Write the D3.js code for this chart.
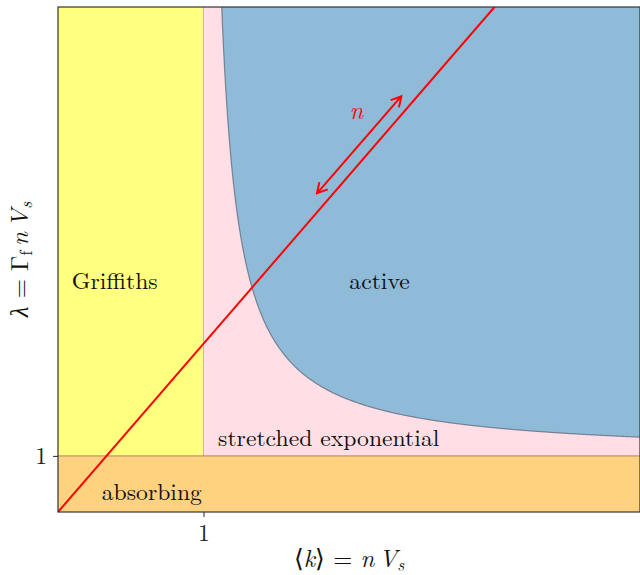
<!DOCTYPE html>
<html>
<head>
<meta charset="utf-8">
<script src="https://cdn.jsdelivr.net/npm/d3@7"></script>
<style>
  body { margin: 0; background: #fff; }
</style>
</head>
<body>
<svg id="chart" width="640" height="575"></svg>
<script>
// Phase diagram in the (<k>, lambda) plane
const xDomain = [0, 4];
const yDomain = [0, 9];
const xTicks = [1];
const yTicks = [1];
const kThreshold = 1;        // percolation threshold <k> = 1
const lambdaThreshold = 1;   // lambda = 1
const lineSlope = 3;         // lambda = Gamma_f n V_s, with <k> = n V_s
const arrowEnds = [[1.78, 5.68], [2.36, 7.41]];
const regionLabels = [
  { text: "Griffiths", k: 0.39, l: 3.98, anchor: "middle" },
  { text: "active", k: 2.21, l: 3.98, anchor: "middle" },
  { text: "stretched exponential", k: 1.1, l: 1.18, anchor: "start" },
  { text: "absorbing", k: 0.645, l: 0.21, anchor: "middle" }
];

const FONT = "'Latin Modern Roman', 'CMU Serif', 'Liberation Serif', serif";
const margin = { left: 58, top: 7, right: 0, bottom: 63 };
const W = 640, H = 575;
const svg = d3.select("#chart");
const x = d3.scaleLinear().domain(xDomain).range([margin.left, W - margin.right]);
const y = d3.scaleLinear().domain(yDomain).range([H - margin.bottom, margin.top]);

const defs = svg.append("defs");
defs.append("clipPath").attr("id", "plotclip")
  .append("rect")
  .attr("x", x(xDomain[0])).attr("y", y(yDomain[1]))
  .attr("width", x(xDomain[1]) - x(xDomain[0]))
  .attr("height", y(yDomain[0]) - y(yDomain[1]));

const g = svg.append("g").attr("clip-path", "url(#plotclip)");

// Griffiths phase: below threshold in <k>
g.append("rect")
  .attr("x", x(xDomain[0])).attr("y", y(yDomain[1]))
  .attr("width", x(kThreshold) - x(xDomain[0]))
  .attr("height", y(lambdaThreshold) - y(yDomain[1]))
  .attr("fill", "rgb(255,255,128)");

// stretched exponential region
g.append("rect")
  .attr("x", x(kThreshold)).attr("y", y(yDomain[1]))
  .attr("width", x(xDomain[1]) - x(kThreshold))
  .attr("height", y(lambdaThreshold) - y(yDomain[1]))
  .attr("fill", "rgb(255,223,229)");

// boundary between Griffiths and stretched exponential
g.append("line")
  .attr("x1", x(kThreshold)).attr("x2", x(kThreshold))
  .attr("y1", y(yDomain[1])).attr("y2", y(lambdaThreshold))
  .attr("stroke", "rgba(120,120,100,0.45)").attr("stroke-width", 1);

// absorbing phase
g.append("rect")
  .attr("x", x(xDomain[0])).attr("y", y(lambdaThreshold))
  .attr("width", x(xDomain[1]) - x(xDomain[0]))
  .attr("height", y(yDomain[0]) - y(lambdaThreshold))
  .attr("fill", "rgb(255,210,128)");
g.append("line")
  .attr("x1", x(xDomain[0])).attr("x2", x(xDomain[1]))
  .attr("y1", y(lambdaThreshold)).attr("y2", y(lambdaThreshold))
  .attr("stroke", "rgba(130,90,80,0.55)").attr("stroke-width", 1.2);

// active phase: lambda > 1 + 1/(<k> - 1)
const ks = d3.range(1.1, 4.0001, 0.005);
const boundary = ks.map(k => [k, lambdaThreshold + 1 / (k - kThreshold)]);
const areaPts = boundary.concat([[xDomain[1], yDomain[1] + 1], [boundary[0][0], yDomain[1] + 1]]);
const line = d3.line().x(d => x(d[0])).y(d => y(d[1]));
g.append("path")
  .attr("d", line(areaPts) + "Z")
  .attr("fill", "rgb(143,187,217)");
g.append("path")
  .attr("d", line(boundary))
  .attr("fill", "none")
  .attr("stroke", "rgba(70,80,95,0.6)").attr("stroke-width", 1.2);

// lambda = Gamma_f <k>
g.append("line")
  .attr("x1", x(0)).attr("y1", y(0))
  .attr("x2", x(yDomain[1] / lineSlope)).attr("y2", y(yDomain[1]))
  .attr("stroke", "#ff0000").attr("stroke-width", 2);

// double-headed arrow for increasing n
["start", "end"].forEach(t => {
  defs.append("marker")
    .attr("id", "head-" + t)
    .attr("viewBox", "-11 -7 13 14")
    .attr("refX", 0).attr("refY", 0)
    .attr("markerWidth", 13).attr("markerHeight", 14)
    .attr("markerUnits", "userSpaceOnUse")
    .attr("orient", t === "end" ? "auto" : "auto-start-reverse")
    .append("path")
    .attr("d", "M-10,-5.5 L0,0 L-10,5.5")
    .attr("fill", "none").attr("stroke", "#ff0000").attr("stroke-width", 2);
});
svg.append("line")
  .attr("x1", x(arrowEnds[0][0])).attr("y1", y(arrowEnds[0][1]))
  .attr("x2", x(arrowEnds[1][0])).attr("y2", y(arrowEnds[1][1]))
  .attr("stroke", "#ff0000").attr("stroke-width", 2)
  .attr("marker-start", "url(#head-start)")
  .attr("marker-end", "url(#head-end)");
svg.append("text")
  .attr("x", x(2.051)).attr("y", y(7.0))
  .attr("text-anchor", "middle")
  .style("font-family", FONT)
  .attr("font-style", "italic").attr("font-size", 24)
  .attr("fill", "#ff0000")
  .text("n");

// region labels
svg.selectAll("text.region").data(regionLabels).enter().append("text")
  .attr("class", "region")
  .attr("x", d => x(d.k)).attr("y", d => y(d.l))
  .attr("text-anchor", d => d.anchor)
  .style("font-family", FONT)
  .attr("font-size", 23.7)
  .attr("fill", "#111")
  .text(d => d.text);

// axes
const xAxis = d3.axisBottom(x).tickValues(xTicks).tickSize(5).tickPadding(4).tickFormat(d3.format("d"));
const yAxis = d3.axisLeft(y).tickValues(yTicks).tickSize(5).tickPadding(6).tickFormat(d3.format("d"));
const gx = svg.append("g").attr("transform", `translate(0,${y(yDomain[0])})`).call(xAxis);
const gy = svg.append("g").attr("transform", `translate(${x(xDomain[0])},0)`).call(yAxis);
[gx, gy].forEach(a => {
  a.select(".domain").remove();
  a.selectAll("text").attr("font-size", 23.7).attr("fill", "#222")
    .style("font-family", FONT);
  a.selectAll("line").attr("stroke", "#222");
});
gx.selectAll("text").attr("dy", "0.85em");

// frame
svg.append("rect")
  .attr("x", x(xDomain[0])).attr("y", y(yDomain[1]))
  .attr("width", x(xDomain[1]) - x(xDomain[0]))
  .attr("height", y(yDomain[0]) - y(yDomain[1]))
  .attr("fill", "none").attr("stroke", "#333").attr("stroke-width", 1.2);

// axis titles
const xt = svg.append("text")
  .attr("x", (x.range()[0] + x.range()[1]) / 2).attr("y", 567)
  .attr("text-anchor", "middle").attr("font-size", 24.5).attr("fill", "#111")
  .style("font-family", FONT);
xt.append("tspan").text("⟨");
xt.append("tspan").attr("font-style", "italic").text("k");
xt.append("tspan").text("⟩ = ");
xt.append("tspan").attr("font-style", "italic").text("n\u2009V");
xt.append("tspan").attr("font-style", "italic").attr("font-size", 17).attr("dy", 4).text("s");

const yt = svg.append("text")
  .attr("transform", `translate(28,${(y.range()[0] + y.range()[1]) / 2}) rotate(-90)`)
  .attr("text-anchor", "middle").attr("font-size", 24.5).attr("fill", "#111")
  .style("font-family", FONT);
yt.append("tspan").attr("font-style", "italic").text("λ");
yt.append("tspan").text(" = Γ");
yt.append("tspan").attr("font-size", 17).attr("dy", 4).text("f");
yt.append("tspan").attr("font-style", "italic").attr("dy", -4).text("\u2009n\u2009V");
yt.append("tspan").attr("font-style", "italic").attr("font-size", 17).attr("dy", 4).text("s");
</script>
</body>
</html>
